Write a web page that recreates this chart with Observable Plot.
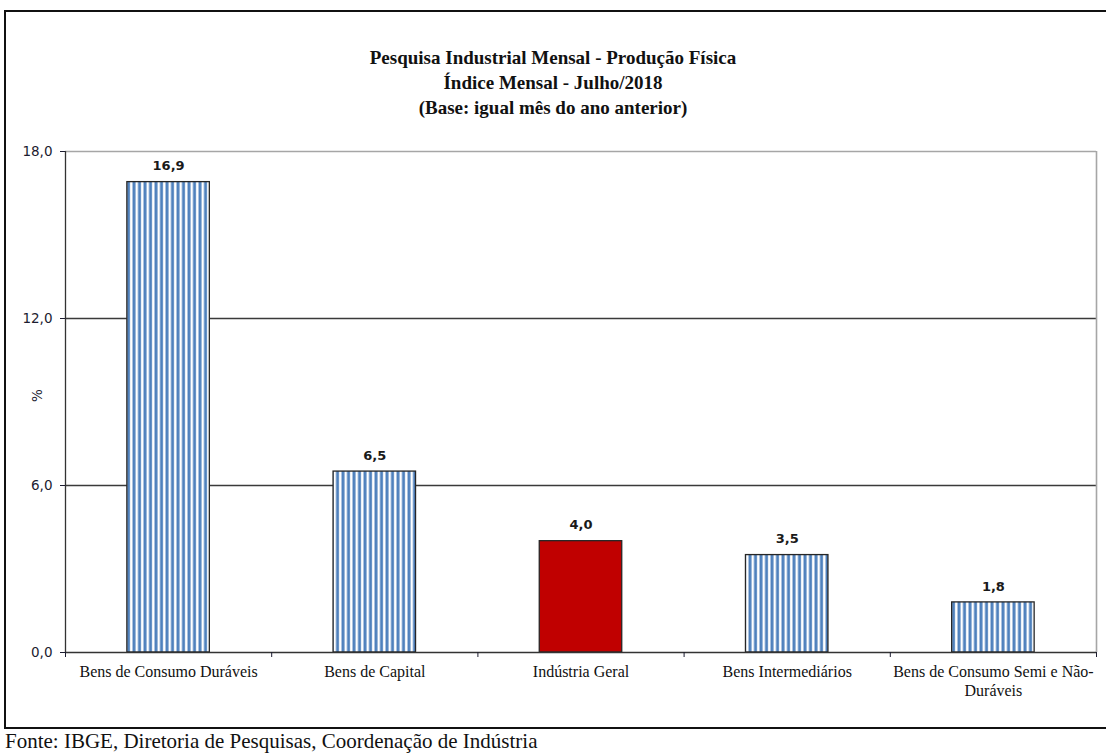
<!DOCTYPE html>
<html>
<head>
<meta charset="utf-8">
<script src="https://cdn.jsdelivr.net/npm/d3@7"></script>
<script src="https://cdn.jsdelivr.net/npm/@observablehq/plot@0.6"></script>
<style>
  html, body { margin: 0; padding: 0; background: #fff; }
  #wrap { position: relative; width: 1106px; height: 753px; overflow: hidden; background: #fff; }
  #box { position: absolute; left: 4px; top: 10px; width: 1200px; height: 715px; border: 2px solid #111; pointer-events: none; z-index: 2; }
  #title { position: absolute; left: 0; top: 45px; width: 1106px; text-align: center; font-family: "Liberation Serif", serif; font-weight: bold; font-size: 19px; line-height: 25px; color: #111; z-index: 1; }
  #chart { position: absolute; left: 0; top: 0; }
  #foot { position: absolute; left: 5px; top: 729px; font-family: "Liberation Serif", serif; font-size: 21px; color: #111; white-space: nowrap; }
</style>
</head>
<body>
<div id="wrap">
  <div id="chart"></div>
  <div id="title">Pesquisa Industrial Mensal - Produção Física<br>Índice Mensal - Julho/2018<br>(Base: igual mês do ano anterior)</div>
  <div id="box"></div>
  <div id="foot">Fonte: IBGE, Diretoria de Pesquisas, Coordenação de Indústria</div>
</div>
<script>
const categories = ["Bens de Consumo Duráveis", "Bens de Capital", "Indústria Geral", "Bens Intermediários", "Bens de Consumo Semi e Não-Duráveis"];
const values = [16.9, 6.5, 4.0, 3.5, 1.8];
const highlighted = ["Indústria Geral"];
const yTicks = [0, 6, 12, 18];
const yLabel = "%";

const data = categories.map((c, i) => ({i, category: c, value: values[i]}));
const fmt = v => v.toFixed(1).replace(".", ",");

const chart = Plot.plot({
  width: 1106,
  height: 727,
  marginTop: 151,
  marginBottom: 75,
  marginLeft: 65,
  marginRight: 10,
  style: {background: "transparent", fontFamily: "DejaVu Sans", fontSize: "12px", color: "#1c1c30"},
  x: {domain: [0, categories.length], axis: null},
  y: {domain: [0, 18], axis: null},
  marks: [
    Plot.ruleY([6, 12], {stroke: "#3a3a3a", strokeWidth: 1.3}),
    Plot.ruleY([18], {stroke: "#a6a6a6", strokeWidth: 1.6}),
    Plot.ruleX([categories.length], {stroke: "#a6a6a6", strokeWidth: 1.6}),
    Plot.rectY(data, {
      x1: d => d.i + 0.3, x2: d => d.i + 0.7, y: "value",
      fill: d => highlighted.includes(d.category) ? "#C00000" : "url(#stripes)",
      stroke: "#262626", strokeWidth: 1.3
    }),
    Plot.ruleX([0], {stroke: "#333", strokeWidth: 1.3}),
    Plot.ruleY([0], {stroke: "#333", strokeWidth: 1.3}),
    Plot.axisY({ticks: yTicks, tickFormat: () => "", tickSize: 5, label: null}),
    Plot.text(yTicks, {x: 0, y: d => d, dx: -13, textAnchor: "end", text: fmt, fontSize: 13.5, fill: "#1c1c30"}),
    Plot.text([yLabel], {frameAnchor: "left", dx: -28, rotate: -90, text: d => d, fontSize: 13.5, fill: "#1c1c30"}),
    Plot.axisX({ticks: d3.range(categories.length + 1), tickFormat: () => "", tickSize: 5, label: null}),
    Plot.text(data, {
      x: d => d.i + 0.5, y: 0, dy: 11,
      text: d => d.category.replace("Não-", "Não-\n"),
      lineAnchor: "top", lineHeight: 1.2,
      fontFamily: "Liberation Serif", fontSize: 16, fill: "#111"
    }),
    Plot.text(data, {
      x: d => d.i + 0.5, y: "value", dy: -16,
      text: d => fmt(d.value),
      fontWeight: "bold", fontSize: 13, fill: "#1a1a1a"
    })
  ]
});

chart.insertAdjacentHTML("afterbegin",
  '<defs><pattern id="stripes" patternUnits="userSpaceOnUse" width="5.5" height="10">' +
  '<rect width="5.5" height="10" fill="#ffffff"></rect>' +
  '<rect x="0.5" width="3" height="10" fill="#4F81BD"></rect></pattern></defs>');

document.getElementById("chart").appendChild(chart);
</script>
</body>
</html>
